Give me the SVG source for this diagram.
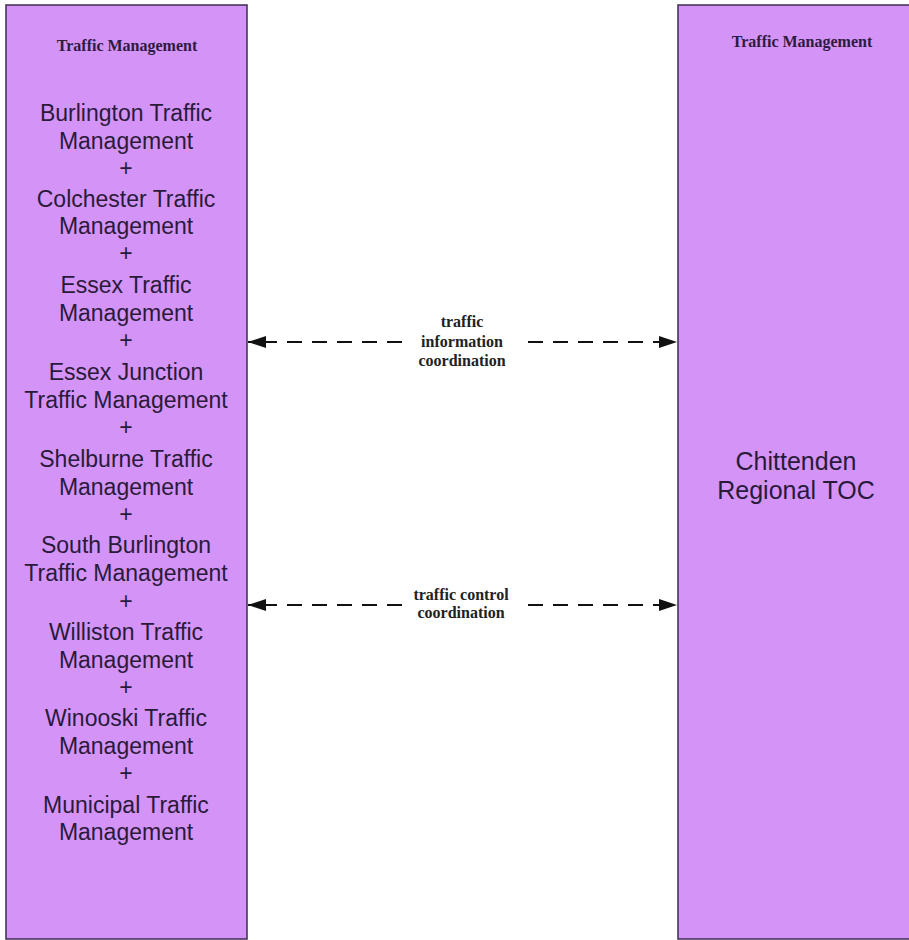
<svg xmlns="http://www.w3.org/2000/svg" width="909" height="940" viewBox="0 0 909 940">
<style>
.box{fill:#d494f7;stroke:#3b2d52;stroke-width:1.5}
.hdr{font-family:"Liberation Serif",serif;font-weight:bold;font-size:16px;fill:#2e1a42;text-anchor:middle}
.body{font-family:"Liberation Sans",Arial,sans-serif;font-size:23px;fill:#2a1a3a;text-anchor:middle}
.big{font-family:"Liberation Sans",Arial,sans-serif;font-size:25px;fill:#2a1a3a;text-anchor:middle}
.lbl{font-family:"Liberation Serif",serif;font-weight:bold;font-size:16px;fill:#222;text-anchor:middle}
.dash{stroke:#111;stroke-width:2;stroke-dasharray:15 10;fill:none}
</style>
<defs>
<marker id="ah" viewBox="0 0 18 12" refX="18" refY="6" markerWidth="18" markerHeight="12" markerUnits="userSpaceOnUse" orient="auto-start-reverse">
<path d="M0,0 L18,6 L0,12 z" fill="#111"/>
</marker>
</defs>
<rect width="909" height="940" fill="#ffffff"/>
<g id="node-left">
<rect class="box" x="6" y="5" width="241" height="934"/>
<text class="hdr" x="127" y="51">Traffic Management</text>
<text class="body" x="126" y="121">Burlington Traffic</text>
<text class="body" x="126" y="149">Management</text>
<text class="body" x="126" y="176">+</text>
<text class="body" x="126" y="207">Colchester Traffic</text>
<text class="body" x="126" y="234">Management</text>
<text class="body" x="126" y="261">+</text>
<text class="body" x="126" y="293">Essex Traffic</text>
<text class="body" x="126" y="321">Management</text>
<text class="body" x="126" y="348">+</text>
<text class="body" x="126" y="380">Essex Junction</text>
<text class="body" x="126" y="408">Traffic Management</text>
<text class="body" x="126" y="435">+</text>
<text class="body" x="126" y="467">Shelburne Traffic</text>
<text class="body" x="126" y="495">Management</text>
<text class="body" x="126" y="522">+</text>
<text class="body" x="126" y="553">South Burlington</text>
<text class="body" x="126" y="581">Traffic Management</text>
<text class="body" x="126" y="609">+</text>
<text class="body" x="126" y="640">Williston Traffic</text>
<text class="body" x="126" y="668">Management</text>
<text class="body" x="126" y="695">+</text>
<text class="body" x="126" y="726">Winooski Traffic</text>
<text class="body" x="126" y="754">Management</text>
<text class="body" x="126" y="781">+</text>
<text class="body" x="126" y="813">Municipal Traffic</text>
<text class="body" x="126" y="840">Management</text>
</g>
<g id="node-right">
<rect class="box" x="678" y="5" width="240" height="934"/>
<text class="hdr" x="802" y="47">Traffic Management</text>
<text class="big" x="796" y="470">Chittenden</text>
<text class="big" x="796" y="499">Regional TOC</text>
</g>
<g id="connectors">
<path class="dash" d="M402,342 L248,342" marker-end="url(#ah)"/>
<path class="dash" d="M528,342 L677,342" marker-end="url(#ah)"/>
<text class="lbl" x="462" y="327">traffic</text>
<text class="lbl" x="462" y="347">information</text>
<text class="lbl" x="462" y="366">coordination</text>
<path class="dash" d="M402,605 L248,605" marker-end="url(#ah)"/>
<path class="dash" d="M528,605 L677,605" marker-end="url(#ah)"/>
<text class="lbl" x="461" y="600">traffic control</text>
<text class="lbl" x="461" y="618">coordination</text>
</g>
</svg>
